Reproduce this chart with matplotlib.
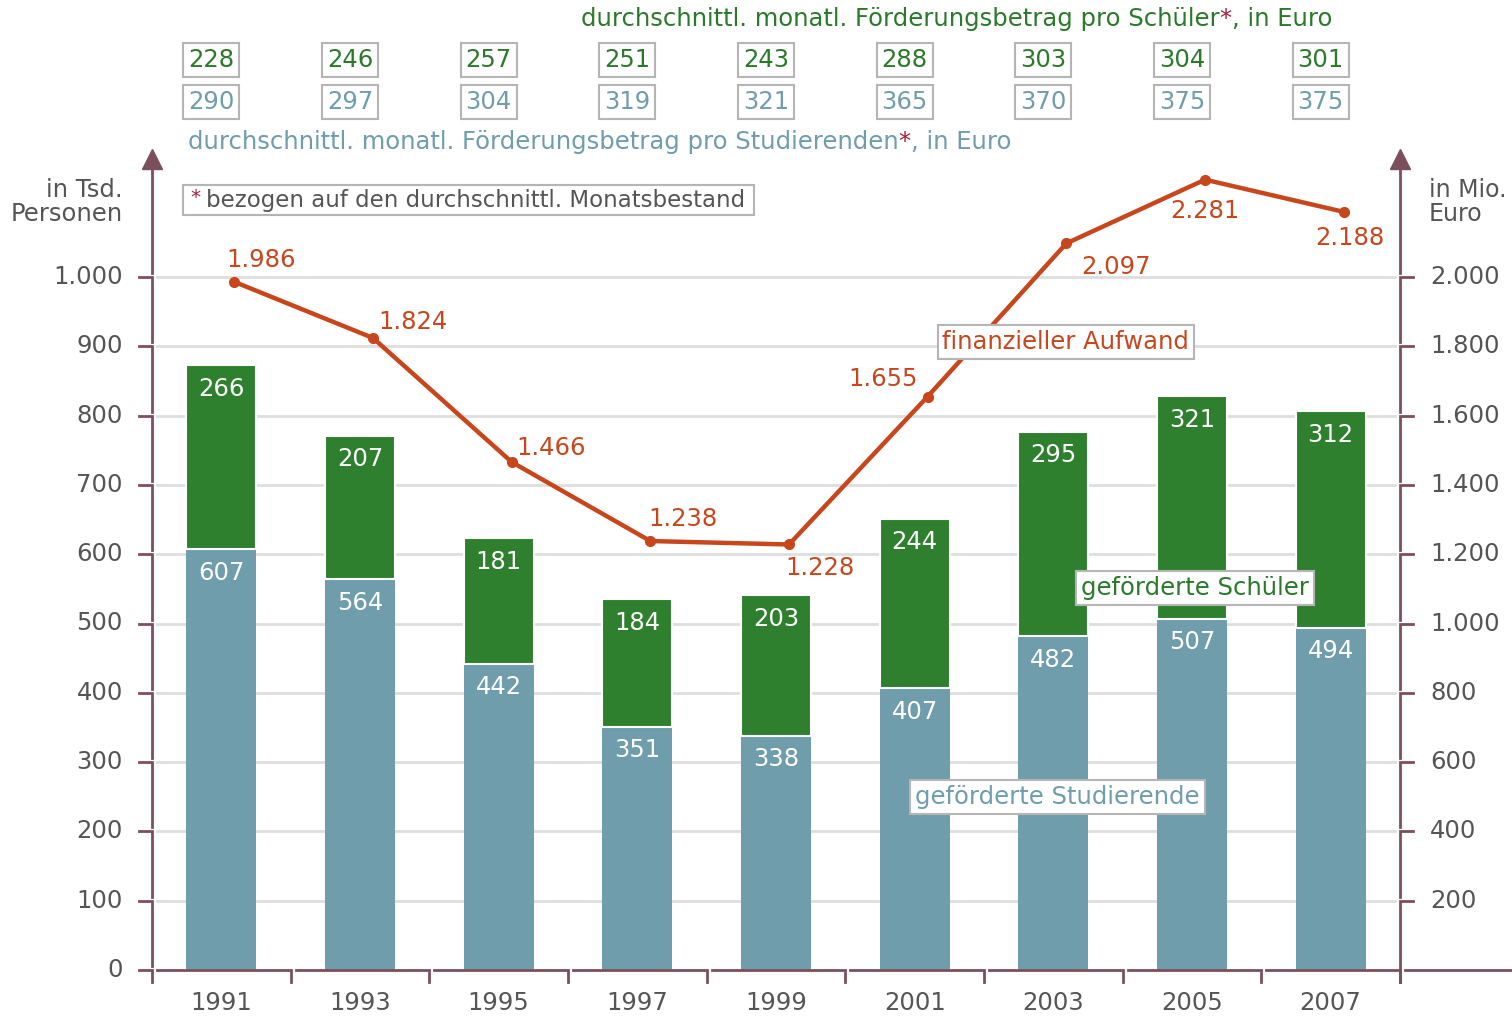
import matplotlib.pyplot as plt
from matplotlib.patches import Rectangle

# data
years = ['1991', '1993', '1995', '1997', '1999', '2001', '2003', '2005', '2007']
studierende = [607, 564, 442, 351, 338, 407, 482, 507, 494]   # Tsd. Personen
schueler = [266, 207, 181, 184, 203, 244, 295, 321, 312]      # Tsd. Personen
aufwand = [1986, 1824, 1466, 1238, 1228, 1655, 2097, 2281, 2188]  # Mio. Euro
betrag_schueler = [228, 246, 257, 251, 243, 288, 303, 304, 301]
betrag_studierende = [290, 297, 304, 319, 321, 365, 370, 375, 375]
left_ticks = list(range(0, 1001, 100))
right_ticks = list(range(200, 2001, 200))

# label offsets (pixels) for the line values
line_offsets = [(27, 22), (40, 16), (39, 14), (33, 22), (31, -24),
                (-45, 18), (50, -24), (0, -31), (6, -26)]

c_blue = '#6f9dac'
c_green = '#2e802e'
c_green_txt = '#2a7a2a'
c_line = '#c8461c'
c_axis = '#7b4f5c'
c_grid = '#dedede'
c_text = '#555555'
c_star = '#a3203c'
c_box = '#b5b5b5'
fs = 17.5

W, H = 1512, 1019
fig = plt.figure(figsize=(W / 100, H / 100), dpi=100)
ax = fig.add_axes([152 / W, 1 - 970 / H, (1400 - 152) / W, (970 - 150) / H])
ymax = 820 / 0.693
ax.set_xlim(-0.5, 8.5)
ax.set_ylim(0, ymax)
ax.axis('off')

px = (1400 - 152) / 9.0   # pixels per x unit
py = 0.693                # pixels per y unit
x = list(range(len(years)))

# bars
ax.bar(x, studierende, width=70 / px, color=c_blue, zorder=2)
ax.bar(x, schueler, bottom=studierende, width=70 / px, color=c_green,
       edgecolor='white', linewidth=1.5, zorder=2)
for i in x:
    ax.text(i, studierende[i] - 34, str(studierende[i]), color='white',
            ha='center', va='center', fontsize=fs, zorder=3)
    ax.text(i, studierende[i] + schueler[i] - 34, str(schueler[i]), color='white',
            ha='center', va='center', fontsize=fs, zorder=3)

# gridlines
xl, xr = -0.5, 8.5
gx, gy = 5 / px, 4 / py
tx, ty = 13 / px, 12 / py
for v in left_ticks[1:]:
    ax.plot([xl + gx, xr - gx], [v, v], color=c_grid, lw=2, zorder=0, clip_on=False)

# left axis with segmented ticks
for v in left_ticks:
    lower = v - 100 + gy if v > 0 else -ty
    ax.plot([xl - tx, xl, xl], [v, v, lower], color=c_axis, lw=2, clip_on=False,
            solid_joinstyle='miter')
    ax.text(xl - 29 / px, v, f'{v:,}'.replace(',', '.'), ha='right', va='center',
            fontsize=fs, color=c_text)
ax.plot([xl, xl], [1000 + gy, ymax - 10 / py], color=c_axis, lw=2, clip_on=False)
ax.plot([xl], [ymax - 9 / py], marker='^', ms=15, color=c_axis, clip_on=False)

# right axis
for v in left_ticks[1:]:
    lower = v - 100 + gy if v > 100 else -ty
    ax.plot([xr + tx, xr, xr], [v, v, lower], color=c_axis, lw=2, clip_on=False,
            solid_joinstyle='miter')
ax.plot([xr, xr], [1000 + gy, ymax - 10 / py], color=c_axis, lw=2, clip_on=False)
ax.plot([xr], [ymax - 9 / py], marker='^', ms=15, color=c_axis, clip_on=False)

# bottom axis
for i in x:
    b0 = -0.5 + i
    ax.plot([b0 + gx, b0 + 1, b0 + 1], [0, 0, -ty], color=c_axis, lw=2,
            clip_on=False, solid_joinstyle='miter')
    ax.text(i, -33 / py, years[i], ha='center', va='center', fontsize=fs, color=c_text)
ax.plot([xr + gx, xr + 112 / px], [0, 0], color=c_axis, lw=2, clip_on=False)

# line on the right scale
ax2 = ax.twinx()
ax2.set_ylim(0, 2 * ymax)
ax2.axis('off')
xs = [i + 13 / px for i in x]
ax2.plot(xs, aufwand, color=c_line, lw=3.2, marker='o', ms=7, zorder=4)
for i, v in enumerate(aufwand):
    ax2.annotate(f'{v:,}'.replace(',', '.'), (xs[i], v), xytext=line_offsets[i],
                 textcoords='offset pixels', ha='center', va='center',
                 fontsize=fs, color=c_line)
for v in right_ticks:
    ax2.text(xr + 30 / px, v, f'{v:,}'.replace(',', '.'), ha='left', va='center',
             fontsize=fs, color=c_text)

# series labels
box = dict(boxstyle='square,pad=0.2', fc='white', ec=c_box, lw=1.5)
ax2.text(6.09, 2 * 906, 'finanzieller Aufwand', ha='center', va='center',
         fontsize=fs, color=c_line, bbox=box, zorder=6)
ax2.text(7.02, 2 * 551, 'geförderte Schüler', ha='center', va='center',
         fontsize=fs, color=c_green_txt, bbox=box, zorder=6)
ax2.text(6.03, 2 * 250, 'geförderte Studierende', ha='center', va='center',
         fontsize=fs, color=c_blue, bbox=box, zorder=6)

# axis titles
fig.text(123 / W, 1 - 202 / H, 'in Tsd.\nPersonen', ha='right', va='center',
         multialignment='right', fontsize=fs, color=c_text, linespacing=1.05)
fig.text(1429 / W, 1 - 202 / H, 'in Mio.\nEuro', ha='left', va='center',
         multialignment='left', fontsize=fs - 0.5, color=c_text, linespacing=1.05)

# amount boxes
for i in x:
    ax.annotate(str(betrag_schueler[i]), xy=(i - 10 / px, H - 60),
                xycoords=('data', 'figure pixels'), ha='center', va='center',
                fontsize=fs, color=c_green_txt, bbox=box, annotation_clip=False)
    ax.annotate(str(betrag_studierende[i]), xy=(i - 10 / px, H - 102),
                xycoords=('data', 'figure pixels'), ha='center', va='center',
                fontsize=fs, color=c_blue, bbox=box, annotation_clip=False)


def title(x0, y0, text, color):
    t1 = fig.text(x0 / W, 1 - y0 / H, text, color=color, fontsize=fs,
                  ha='left', va='center')
    a = ax.annotate('*', xy=(1, 0), xycoords=t1, ha='left', va='bottom',
                    color=c_star, fontsize=fs, annotation_clip=False)
    ax.annotate(', in Euro', xy=(1, 0), xycoords=a, ha='left', va='bottom',
                color=color, fontsize=fs, annotation_clip=False)


title(581, 19, 'durchschnittl. monatl. Förderungsbetrag pro Schüler', c_green_txt)
title(188, 142, 'durchschnittl. monatl. Förderungsbetrag pro Studierenden', c_blue)

# footnote
fig.add_artist(Rectangle((183 / W, 1 - 215 / H), (754 - 183) / W, 30 / H,
                         transform=fig.transFigure, fill=False, ec=c_box, lw=1.5))
fig.text(190 / W, 1 - 197 / H, '*', color=c_star, fontsize=fs - 3, ha='left', va='center')
fig.text(206 / W, 1 - 201 / H, 'bezogen auf den durchschnittl. Monatsbestand',
         color=c_text, fontsize=fs - 1, ha='left', va='center')

fig.savefig('out.png', dpi=100)
